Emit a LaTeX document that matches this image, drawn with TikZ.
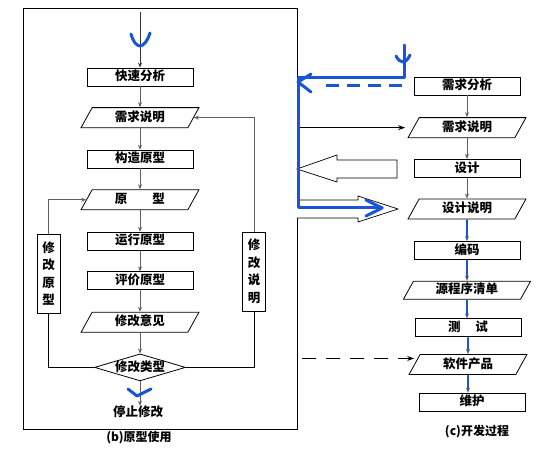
\documentclass[tikz,border=0pt]{standalone}
\usepackage{fontspec}
\newfontfamily\cjk{Noto Sans CJK SC}
\usepackage{tikz}
\usetikzlibrary{positioning, arrows.meta, shapes.geometric}
\definecolor{penblue}{RGB}{25,85,215}
\definecolor{linegray}{RGB}{95,95,95}
\tikzset{
    stage/.style={rectangle, draw=black, line width=0.8pt, fill=white, minimum width=106pt, minimum height=18pt, inner sep=0pt, text height=9pt, text depth=1.5pt, font=\cjk\bfseries\fontsize{12.5}{14}\selectfont},
    doc/.style={trapezium, trapezium left angle=61, trapezium right angle=119, draw=black, line width=0.8pt, fill=white, minimum width=118pt, minimum height=18pt, inner sep=0pt, text height=9pt, text depth=1.5pt, font=\cjk\bfseries\fontsize{12.5}{14}\selectfont},
    choice/.style={diamond, draw=black, line width=0.8pt, fill=white, aspect=3.4, minimum width=91pt, minimum height=27pt, inner sep=0pt, text height=9pt, text depth=1.5pt, font=\cjk\bfseries\fontsize{12.5}{14}\selectfont},
    sidebox/.style={rectangle, draw=black, line width=0.8pt, fill=white, minimum width=23pt, minimum height=79pt, inner sep=0pt, align=center, font=\cjk\bfseries\fontsize{12.5}{17.5}\selectfont},
    caption/.style={inner sep=0pt, font=\cjk\bfseries\fontsize{12}{14}\selectfont},
    garrow/.style={draw=linegray, line width=0.8pt, -{Stealth[length=5pt, width=4pt]}},
    gline/.style={draw=black, line width=0.8pt},
    barrow/.style={draw=black, line width=0.9pt, -{Stealth[length=7pt, width=5pt]}},
    hollow/.style={draw=black, line width=0.7pt, fill=white},
    pen/.style={draw=penblue, line width=3pt, line cap=round, line join=round}
}
\begin{document}
\begin{tikzpicture}[x=1pt, y=-1pt]
    \useasboundingbox (0,0) rectangle (549,465);

    % Frame of (b)
    \node[draw, line width=0.8pt, minimum width=274pt, minimum height=421pt, inner sep=0pt] (protobox) at (160.5,218.5) {};

    % Prototype use
    \coordinate (entry) at (140,12);
    \node[stage] (ksfx) at (140,77) {快速分析};
    \node[doc, below=20.8pt of ksfx] (xqsm) {需求说明};
    \node[stage, below=21.6pt of xqsm] (gzyx) {构造原型};
    \node[doc, below=20.8pt of gzyx] (yx) {原\hspace{2em}型};
    \node[stage, below=21.6pt of yx] (yxyx) {运行原型};
    \node[stage, below=20.8pt of yxyx] (pjyx) {评价原型};
    \node[doc, below=21.6pt of pjyx] (xgyj) {修改意见};
    \node[choice, below=20.8pt of xgyj] (xglx) {修改类型};
    \node[caption, font=\cjk\bfseries\fontsize{12.5}{14}\selectfont] (tzxg) at (138,412) {停止修改};
    \node[sidebox] (xgyxb) at (48.5,273.5) {修\\改\\原\\型};
    \node[sidebox] (xgsmb) at (254,271.5) {修\\改\\说\\明};
    \node[caption] (capb) at (139,438) {(b)原型使用};

    % Development process
    \node[stage] (xqfx) at (467,86) {需求分析};
    \node[doc, below=21.8pt of xqfx] (xqsm2) {需求说明};
    \node[stage, below=20.8pt of xqsm2] (sj) {设计};
    \node[doc, below=20.8pt of sj] (sjsm) {设计说明};
    \node[stage, below=21.8pt of sjsm] (bm) {编码};
    \node[doc, below=20.8pt of bm] (ycxqd) {源程序清单};
    \node[stage, below=18.8pt of ycxqd, xshift=1pt] (cs) {测\hspace{1.2em}试};
    \node[doc, below=16.8pt of cs] (rjcp) {软件产品};
    \node[stage, below=17.8pt of rjcp, xshift=4pt] (wh) {维护};
    \node[caption] (capc) at (477,432) {(c)开发过程};

    % Connections
    \draw[garrow, draw=black!80] (entry) -- (ksfx);
    \foreach \a/\b in {ksfx/xqsm, xqsm/gzyx, gzyx/yx, yx/yxyx, yxyx/pjyx, pjyx/xgyj, xgyj/xglx, xglx/tzxg}
        \draw[garrow] (\a.south) -- (\a.south |- \b.north);
    \foreach \a/\b in {xqfx/xqsm2, xqsm2/sj, sj/sjsm, sjsm/bm, bm/ycxqd, ycxqd/cs, cs/rjcp, rjcp/wh}
        \draw[garrow] (\a.south) -- (\a.south |- \b.north);
    \draw[gline] (xglx.west) -| (xgyxb.south);
    \draw[garrow] (xgyxb.north) |- (yx.west);
    \draw[gline] (xglx.east) -| (xgsmb.south);
    \draw[garrow] (xgsmb.north) |- (xqsm.east);

    % Between the two
    \draw[barrow, shorten <=2pt] (xqsm2.west -| protobox.east) -- ([xshift=-8pt]xqsm2.west);
    \draw[barrow, dash pattern=on 14pt off 10pt, shorten <=4pt] ([yshift=6pt]rjcp.west -| protobox.east) -- ([yshift=6pt]rjcp.west);
    \draw[hollow] (297,169) -- (337,155) -- (337,160) -- (397,160) -- (397,178) -- (337,178) -- (337,182) -- cycle;
    \draw[hollow] (297,200) -- (358,200) -- (358,196) -- (398,209) -- (358,222) -- (358,218) -- (297,218);

    % Pen marks
    \draw[pen] (404,45) -- (404,78) -- (298,78) -- (298,208) -- (382,208);
    \draw[pen] (396,56) .. controls (400,64) and (406,64) .. (410,55);
    \draw[pen] (311,74) -- (298,82) -- (311,92);
    \draw[pen, line cap=butt, dash pattern=on 13pt off 8pt] (402,86) -- (318,86);
    \draw[pen] (366,200) -- (382,208) -- (366,216);
    \draw[pen] (131,34) .. controls (135,49) and (144,51) .. (150,33);
    \draw[pen] (128,389) -- (137,396) -- (151,389);
    \foreach \a/\b in {sjsm/bm, bm/ycxqd, ycxqd/cs, cs/rjcp, rjcp/wh}
        \draw[pen, line width=2.2pt] ([yshift=-1pt]\a.south) -- ([yshift=4pt]\a.south |- \b.north);

\end{tikzpicture}
\end{document}
